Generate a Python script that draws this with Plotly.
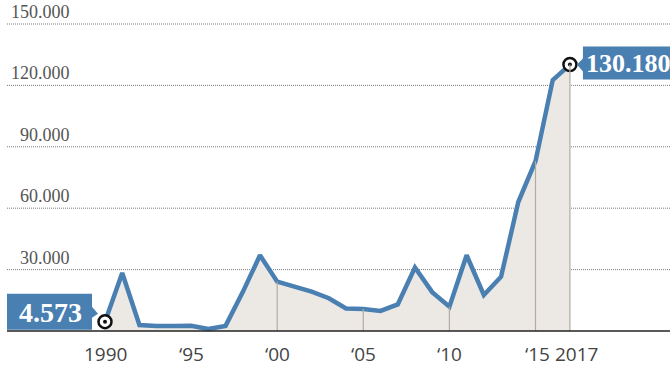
import plotly.graph_objects as go

# Data
years = list(range(1990, 2018))
values = [4573, 28300, 2900, 2400, 2500, 2600, 1000, 2500, 19000, 37000,
          24100, 21600, 19200, 16000, 11000, 10700, 9800, 13000, 31000, 19000,
          11900, 37000, 17600, 26500, 63000, 83000, 122600, 130180]
ytick_vals = [30000, 60000, 90000, 120000, 150000]
ytick_text = ["30.000", "60.000", "90.000", "120.000", "150.000"]
xtick_vals = [1990, 1995, 2000, 2005, 2010, 2015, 2017]
xtick_text = ["1990", "\u201895", "\u201800", "\u201805", "\u201810", "\u201815", "2017"]
xtick_shift = [0, 0, 0, 0, 0, 2, 7]
vline_years = [2000, 2005, 2010, 2015, 2017]
first_label = "4.573"
last_label = "130.180"

W, H = 670, 369
# pixel calibration
x0px, xstep = 105, 17.22
y0px, ystep = 331, 2.0467 / 1000
xr = [1990 - x0px / xstep, 1990 + (W - x0px) / xstep]
yr = [-(H - y0px) / ystep, y0px / ystep]

BLUE = "#4a7fb2"
FILL = "#ece9e5"
SERIF = "Liberation Serif"
SANS = "Open Sans"

fig = go.Figure()

fig.add_trace(go.Scatter(
    x=years, y=values, mode="lines",
    line=dict(color=BLUE, width=4.5),
    fill="tozeroy", fillcolor=FILL, hoverinfo="skip"))

shapes = []
# gridlines
for v in ytick_vals:
    shapes.append(dict(type="line", xref="paper", yref="y", x0=7 / W, x1=1, y0=v, y1=v,
                       line=dict(color="#7a7a7a", width=1, dash="1px,1px"), layer="below"))
# vertical lines under curve
for yv in vline_years:
    val = values[years.index(yv)]
    shapes.append(dict(type="line", xref="x", yref="y", x0=yv, x1=yv, y0=0, y1=val,
                       line=dict(color="#b3aba2", width=1.2), layer="above"))
# baseline
shapes.append(dict(type="line", xref="paper", yref="y", x0=7 / W, x1=1, y0=0, y1=0,
                   line=dict(color="#222222", width=1.5)))
# label boxes anchored at first/last points
shapes.append(dict(type="path", xref="x", yref="y", xsizemode="pixel", ysizemode="pixel",
                   xanchor=years[0], yanchor=values[0],
                   path="M -98,28 L -13,28 L -13,15 L -7,8 L -13,4 L -13,-8 L -98,-8 Z",
                   fillcolor=BLUE, line=dict(width=0)))
shapes.append(dict(type="path", xref="x", yref="y", xsizemode="pixel", ysizemode="pixel",
                   xanchor=years[-1], yanchor=values[-1],
                   path="M 13,18 L 110,18 L 110,-15 L 13,-15 L 13,-7 L 7,0 L 13,6 Z",
                   fillcolor=BLUE, line=dict(width=0)))

# end markers
fig.add_trace(go.Scatter(
    x=[years[0], years[-1]], y=[values[0], values[-1]], mode="markers",
    marker=dict(size=13, color="white", line=dict(color="#111111", width=2.5)),
    hoverinfo="skip"))
fig.add_trace(go.Scatter(
    x=[years[0], years[-1]], y=[values[0], values[-1]], mode="markers",
    marker=dict(size=4, color="#111111"), hoverinfo="skip"))

annotations = []
for v, t in zip(ytick_vals, ytick_text):
    annotations.append(dict(x=72 / W, xref="paper", y=v, yref="y", text=t, showarrow=False,
                            xanchor="right", yanchor="bottom", yshift=0,
                            font=dict(family=SERIF, size=18, color="#555555")))
for xv, t, s in zip(xtick_vals, xtick_text, xtick_shift):
    annotations.append(dict(x=xv, xref="x", y=0, yref="y", text=t, showarrow=False,
                            xanchor="center", yanchor="middle", yshift=-23, xshift=s,
                            font=dict(family=SANS, size=19, color="#444444")))
annotations.append(dict(x=years[0], y=values[0], text="<b>" + first_label + "</b>", showarrow=False,
                        xshift=-55, yshift=9, font=dict(family=SERIF, size=28, color="white")))
annotations.append(dict(x=years[-1], y=values[-1], text="<b>" + last_label + "</b>", showarrow=False,
                        xshift=59, yshift=1, font=dict(family=SERIF, size=26, color="white")))

fig.update_layout(
    width=W, height=H, margin=dict(l=0, r=0, t=0, b=0),
    paper_bgcolor="white", plot_bgcolor="white", showlegend=False,
    xaxis=dict(range=xr, visible=False, fixedrange=True),
    yaxis=dict(range=yr, visible=False, fixedrange=True),
    shapes=shapes, annotations=annotations)

fig.write_html("out.html", config={"displayModeBar": False},
               post_script="document.body.style.margin='0px';document.body.style.overflow='hidden';")
